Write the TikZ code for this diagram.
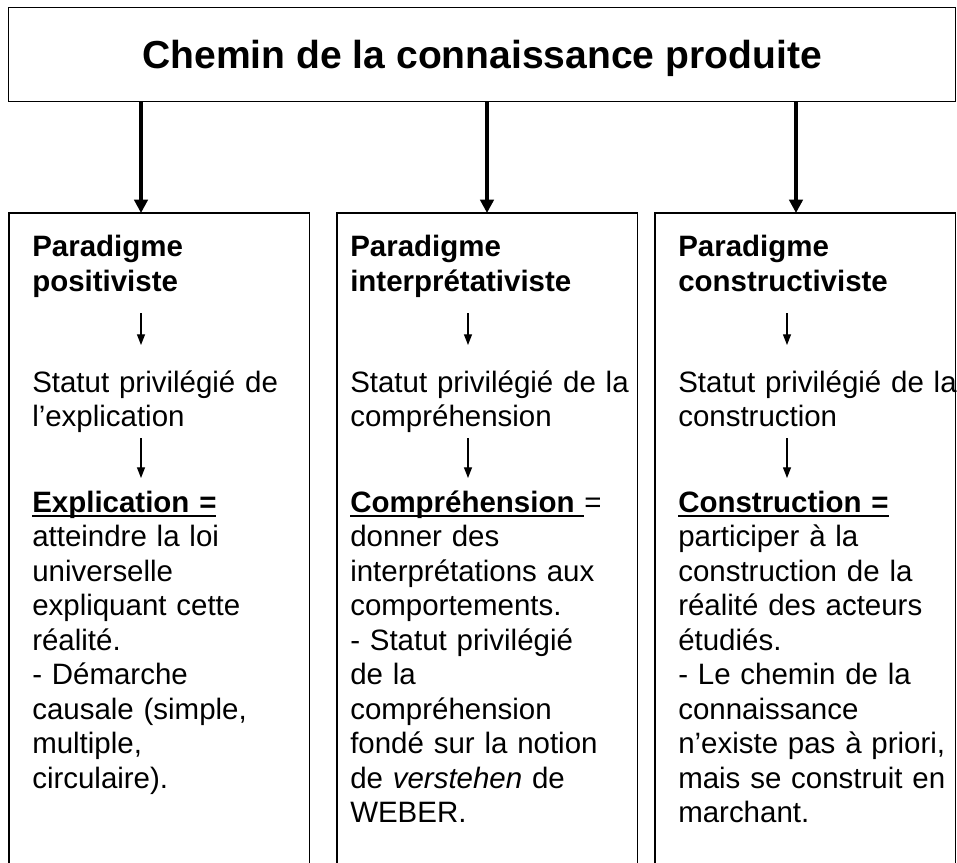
\documentclass[tikz,border=0pt]{standalone}
\usepackage{fontspec}
\setmainfont{Liberation Sans}
\usetikzlibrary{arrows.meta}
\newcommand\myul[1]{\setbox0\hbox{#1}\rlap{\rule[-4pt]{\wd0}{1.8pt}}\box0}
\begin{document}
\begin{tikzpicture}[x=0.75pt,y=-0.75pt,
  frame/.style={draw=black,line width=0.9pt},
  topbox/.style={frame,rectangle,inner sep=0pt,minimum width=710.25pt,minimum height=70.5pt,anchor=north west,font=\fontsize{29.3}{34}\selectfont\bfseries,text height=24pt,text depth=3pt},
  colbox/.style={rectangle,inner sep=0pt,minimum width=225pt,minimum height=487.5pt,anchor=north west},
  txt/.style={anchor=base west,inner sep=0pt,align=left,text width=260pt,font=\fontsize{22.1}{25.875}\selectfont},
  hdr/.style={txt,font=\fontsize{22.1}{25.875}\selectfont\bfseries},
  bigarrow/.style={line width=3pt,-{Triangle[width=10pt,length=10pt]}},
  smallarrow/.style={line width=0.9pt,-{Triangle[width=6pt,length=8pt]}},
]
\useasboundingbox (0,0) rectangle (957,863);

% top box
\node[topbox] (top) at (8,7) {Chemin de la connaissance produite};

% column boxes
\node[colbox] (b1) at (9,213) {};
\node[colbox] (b2) at (337,213) {};
\node[colbox] (b3) at (655,213) {};
\foreach \b in {b1,b2,b3}{
  \draw[frame] (\b.south west) -- (\b.north west) -- (\b.north east) -- (\b.south east);
}

% big arrows
\coordinate (x1) at (141,0);
\coordinate (x2) at (487,0);
\coordinate (x3) at (796,0);
\draw[bigarrow] (top.south -| x1) -- (b1.north -| x1);
\draw[bigarrow] (top.south -| x2) -- (b2.north -| x2);
\draw[bigarrow] (top.south -| x3) -- (b3.north -| x3);

% column 1
\node[hdr] (h1) at (32,257) {Paradigme\\positiviste};
\node[txt] (s1) at (32,392) {Statut privilégié de\\l’explication};
\node[txt] (d1) at (32,512) {\myul{\textbf{Explication =}}\\atteindre la loi\\universelle\\expliquant cette\\réalité.\\- Démarche\\causale (simple,\\multiple,\\circulaire).};

% column 2
\node[hdr] (h2) at (350,257) {Paradigme\\interprétativiste};
\node[txt] (s2) at (350,392) {Statut privilégié de la\\compréhension};
\node[txt] (d2) at (350,512) {\myul{\textbf{Compréhension }}=\\donner des\\interprétations aux\\comportements.\\- Statut privilégié\\de la\\compréhension\\fondé sur la notion\\de \textit{verstehen} de\\WEBER.};

% column 3
\node[hdr] (h3) at (678,257) {Paradigme\\constructiviste};
\node[txt] (s3) at (678,392) {Statut privilégié de la\\construction};
\node[txt] (d3) at (678,512) {\myul{\textbf{Construction =}}\\participer à la\\construction de la\\réalité des acteurs\\étudiés.\\- Le chemin de la\\connaissance\\n’existe pas à priori,\\mais se construit en\\marchant.};

% small arrows
\coordinate (p1a) at (141,313); \coordinate (p1b) at (141,345);
\coordinate (q1a) at (141,438); \coordinate (q1b) at (141,478);
\coordinate (p2a) at (468,313); \coordinate (p2b) at (468,345);
\coordinate (q2a) at (468,438); \coordinate (q2b) at (468,478);
\coordinate (p3a) at (787,313); \coordinate (p3b) at (787,345);
\coordinate (q3a) at (787,438); \coordinate (q3b) at (787,478);
\draw[smallarrow] (p1a) -- (p1b);
\draw[smallarrow] (q1a) -- (q1b);
\draw[smallarrow] (p2a) -- (p2b);
\draw[smallarrow] (q2a) -- (q2b);
\draw[smallarrow] (p3a) -- (p3b);
\draw[smallarrow] (q3a) -- (q3b);
\end{tikzpicture}
\end{document}
